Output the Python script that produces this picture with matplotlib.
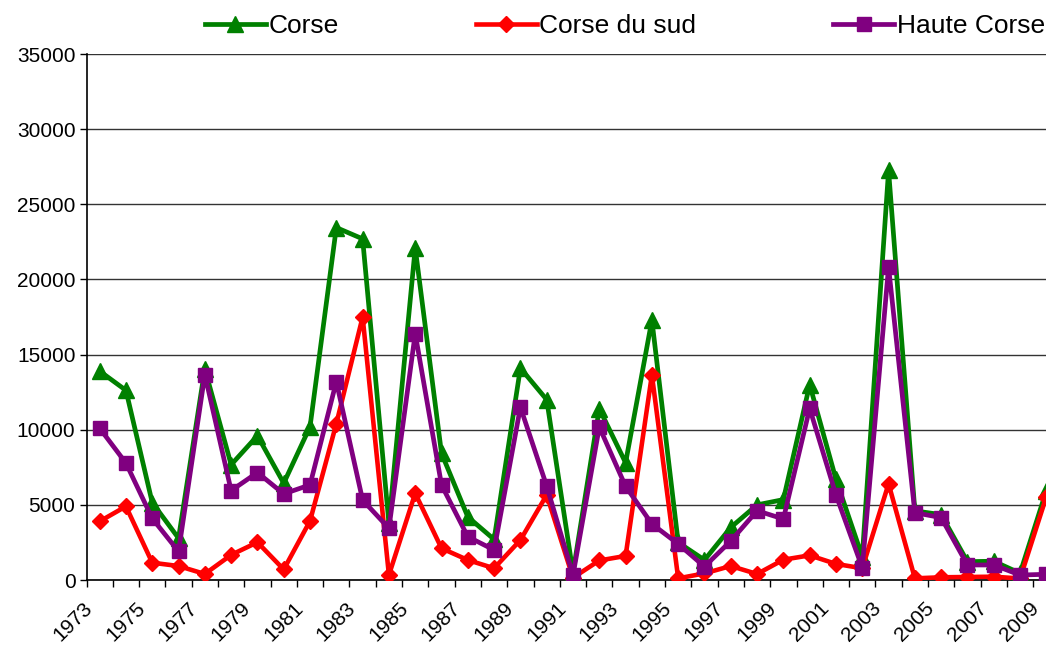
import matplotlib
matplotlib.use("Agg")
import matplotlib.pyplot as plt
import matplotlib.transforms as mtransforms
import numpy as np

plt.rcParams['font.family'] = ['Liberation Sans', 'DejaVu Sans']

# Données
years = list(range(1973, 2010))
corse = [13900, 12620, 5150, 2780, 14050, 7670, 9600, 6440, 10200, 23450,
         22700, 3780, 22100, 8430, 4200, 2700, 14100, 12000, 480, 11400,
         7800, 17300, 2500, 1330, 3500, 5000, 5350, 13000, 6700, 1550,
         27250, 4600, 4350, 1220, 1250, 450, 5950]
corse_du_sud = [3900, 4900, 1150, 930, 400, 1670, 2510, 700, 3930, 10400,
                17500, 330, 5770, 2110, 1330, 780, 2660, 5660, 150, 1300,
                1600, 13650, 110, 440, 930, 400, 1350, 1640, 1070, 780,
                6400, 110, 180, 200, 220, 100, 5550]
haute_corse = [10100, 7780, 4100, 1900, 13670, 5950, 7150, 5730, 6330, 13200,
               5320, 3440, 16400, 6320, 2880, 2000, 11500, 6250, 330, 10180,
               6230, 3730, 2400, 890, 2600, 4610, 4060, 11420, 5660, 820,
               20830, 4480, 4150, 1000, 1000, 330, 380]

x = np.arange(len(years))

fig = plt.figure(figsize=(10.46, 6.46), dpi=100)
# l'axe dépasse à droite : le graphique est coupé comme l'original
ax = fig.add_axes([86.5 / 1046, 1 - 580 / 646, 973 / 1046, 526 / 646])

ax.plot(x, corse, color='#008000', lw=3.4, marker='^', ms=11.5,
        label='Corse', zorder=3)
ax.plot(x, corse_du_sud, color='#FF0000', lw=3.3, marker='D', ms=8.5,
        label='Corse du sud', zorder=4)
ax.plot(x, haute_corse, color='#800080', lw=3.4, marker='s', ms=10.5,
        label='Haute Corse', zorder=5)

ax.set_xlim(-0.5, len(years) - 0.5)
ax.set_ylim(0, 35000)
ax.set_yticks(np.arange(0, 35001, 5000))
ax.tick_params(axis='y', labelsize=15, length=5, width=1, pad=3,
               direction='out')
ax.grid(axis='y', color='#333333', lw=1)
ax.set_axisbelow(True)

ax.set_xticks(x[::2])
ax.set_xticklabels([str(y) for y in years[::2]], rotation=45,
                   ha='right', va='center', rotation_mode='anchor')
ax.set_xticks(np.arange(-0.5, len(years), 1), minor=True)
ax.tick_params(axis='x', which='major', length=0, labelsize=15, pad=18)
ax.tick_params(axis='x', which='minor', length=5, width=1,
               direction='out')

# décale les étiquettes vers la gauche comme dans Excel
shift = mtransforms.ScaledTranslation(-10 / 100, 0, fig.dpi_scale_trans)
for lab in ax.get_xticklabels():
    lab.set_transform(lab.get_transform() + shift)

for side in ['top', 'right']:
    ax.spines[side].set_visible(False)
ax.spines['left'].set_linewidth(1.2)
ax.spines['bottom'].set_linewidth(1.2)

fig.legend(loc='center left', bbox_to_anchor=(205 / 1046, 1 - 26 / 646),
           ncol=3, frameon=False, fontsize=19, handlelength=2.3,
           handletextpad=0.1, columnspacing=5.2, borderpad=0,
           borderaxespad=0, numpoints=1)

fig.savefig('out.png', dpi=100)
